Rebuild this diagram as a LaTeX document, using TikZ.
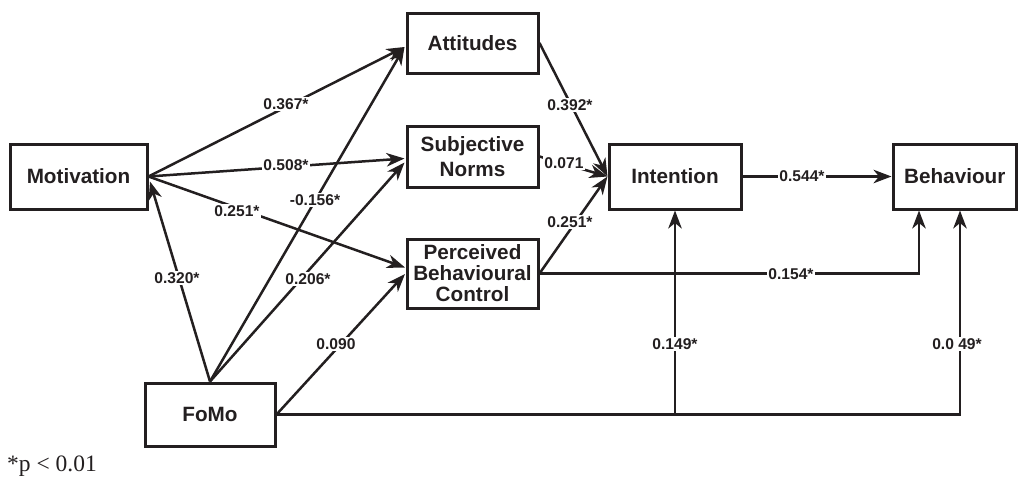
\documentclass[tikz,border=0pt]{standalone}
\usepackage{fontspec}
\setmainfont{Liberation Sans}
\newfontfamily\seriffont{Liberation Serif}
\usetikzlibrary{arrows.meta,calc}
\definecolor{ink}{RGB}{35,31,32}
\begin{document}
\begin{tikzpicture}[x=1pt,y=-1pt,
  box/.style={draw=ink, line width=3pt, inner sep=0pt, align=center, text=ink,
    font=\fontsize{20.7}{25}\selectfont\bfseries},
  conn/.style={draw=ink, line width=2.5pt},
  arr/.style={conn, -{Stealth[length=18pt,width=13.5pt,inset=5.5pt]}},
  lbl/.style={fill=white, text=ink, inner sep=1.5pt, font=\fontsize{15.6}{17}\selectfont\bfseries}
]
\useasboundingbox (0,0) rectangle (1018,477);

% nodes
\node[box, minimum width=131pt, minimum height=60pt] (att) at (472.5,43) {Attitudes};
\node[box, minimum width=131pt, minimum height=61pt] (sn) at (472.5,156.5) {Subjective\\Norms};
\node[box, minimum width=131pt, minimum height=69pt,
  font=\fontsize{20.7}{21}\selectfont\bfseries] (pbc) at (472.5,273.5) {Perceived\\Behavioural\\Control};
\node[box, minimum width=137pt, minimum height=65pt] (mot) at (78.5,176.5) {Motivation};
\node[box, minimum width=130pt, minimum height=63pt] (fomo) at (210,414.5) {FoMo};
\node[box, minimum width=132pt, minimum height=65pt] (int) at (675,176.5) {Intention};
\node[box, minimum width=123.5pt, minimum height=65pt] (beh) at (954.75,176.5) {Behaviour};

% connectors
\draw[arr] (mot.east) -- ($(att.west)+(-1,4)$);
\draw[arr] (mot.east) -- ($(sn.west)+(-1,2)$);
\draw[arr] (mot.east) -- ($(pbc.west)+(-0.5,-6)$);
\draw[arr] (fomo.north) -- ($(mot.east)+(1.5,5)$);
\draw[arr] (fomo.north) -- ($(att.west)+(-1,4)$);
\draw[arr] (fomo.north) -- ($(sn.west)+(-1,6)$);
\draw[arr] (fomo.east) -- ($(pbc.west)+(-0.5,0.5)$);
\draw[arr] (att.east) -- (int.west);
\draw[arr] (sn.east) -- (int.west);
\draw[arr] (pbc.east) -- (int.west);
\draw[arr] (int.east) -- (beh.west);
\draw[arr] (pbc.east) -| ([xshift=-35.75pt]beh.south);
\draw[arr] (fomo.east) -| ([xshift=5.25pt]beh.south);
\draw[arr] (fomo.east) -| (int.south);

% labels
\node[lbl] (l1) at (286,104) {0.367*};
\node[lbl] (l2) at (286,165) {0.508*};
\node[lbl] (l3) at (237,211) {0.251*};
\node[lbl] (l4) at (315,200) {-0.156*};
\node[lbl] (l5) at (177,278) {0.320*};
\node[lbl] (l6) at (308,279) {0.206*};
\node[lbl] (l7) at (336,344) {0.090};
\node[lbl] (l8) at (570,105) {0.392*};
\node[lbl] (l9) at (564,163) {0.071};
\node[lbl] (l10) at (570,222) {0.251*};
\node[lbl] (l11) at (802,176) {0.544*};
\node[lbl] (l12) at (791,274) {0.154*};
\node[lbl] (l13) at (675,344) {0.149*};
\node[lbl] (l14) at (957,344) {0.0 49*};

\node[anchor=west, inner sep=0pt, text=ink, font=\seriffont\fontsize{23.5}{25}\selectfont] (note) at (7,466) {*p < 0.01};
\end{tikzpicture}
\end{document}
